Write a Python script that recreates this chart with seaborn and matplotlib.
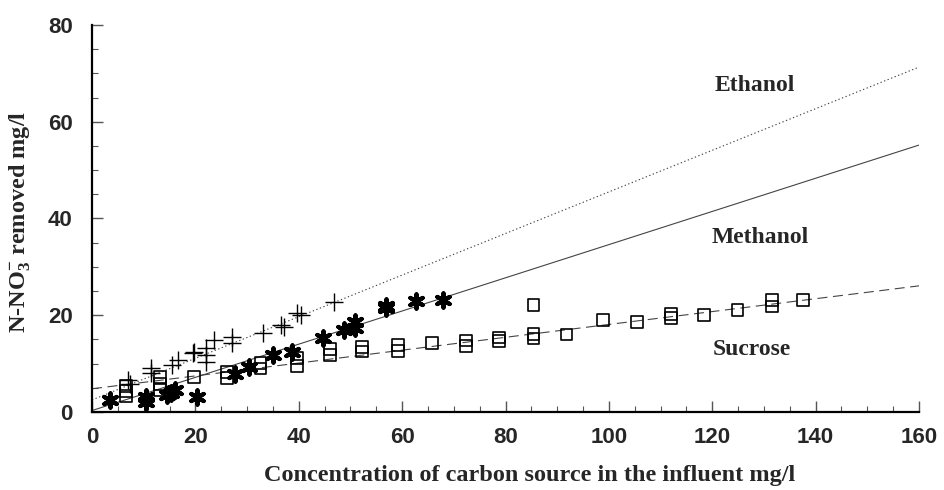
import numpy as np
import pandas as pd
import matplotlib
matplotlib.use("Agg")
import matplotlib.pyplot as plt
import seaborn as sns
from matplotlib.ticker import MultipleLocator

# ---------------- data ----------------
ethanol_x = [7.0, 7.3, 11.5, 11.5, 15.5, 16.7, 19.6, 19.8, 22.1, 22.1, 22.1,
             23.6, 27.1, 27.1, 33.1, 36.5, 37.1, 39.7, 40.4, 46.9]
ethanol_y = [6.6, 5.8, 9.0, 8.0, 9.7, 10.7, 12.1, 12.4, 13.2, 11.8, 10.4,
             14.9, 15.6, 14.2, 16.3, 18.0, 17.6, 20.4, 20.0, 22.8]

methanol_x = [3.4, 10.5, 10.5, 14.6, 15.2, 16.1, 20.3, 27.7, 30.3, 35.1, 38.7,
              44.7, 48.7, 50.8, 50.8, 56.8, 56.8, 62.6, 68.0]
methanol_y = [2.5, 3.2, 2.1, 3.5, 3.9, 4.6, 3.2, 7.8, 9.3, 11.8, 12.4,
              15.2, 17.0, 18.7, 17.3, 21.4, 22.0, 22.9, 23.1]

sucrose_x = [6.6, 6.6, 6.6, 13.1, 13.1, 13.1, 19.7, 26.1, 26.1, 32.6, 32.6,
             39.7, 39.7, 46.1, 46.1, 52.2, 52.2, 59.2, 59.2, 65.8, 72.3, 72.3,
             78.8, 78.8, 85.4, 85.4, 85.4, 91.8, 98.9, 105.4, 112.0, 112.0,
             118.4, 124.9, 131.5, 131.5, 137.6]
sucrose_y = [3.3, 4.3, 5.3, 4.5, 5.8, 7.2, 7.2, 7.0, 8.3, 9.0, 10.2,
             9.5, 11.2, 11.8, 13.0, 12.5, 13.4, 12.6, 13.8, 14.2, 13.6, 14.8,
             14.6, 15.4, 22.1, 15.2, 16.1, 16.0, 19.0, 18.6, 19.4, 20.2,
             20.1, 21.1, 21.8, 23.2, 23.2]

fit_names = ["Ethanol", "Methanol", "Sucrose"]
fit_intercepts = [2.5, 0.3, 4.8]
fit_slopes = [0.43, 0.343, 0.133]

label_texts = ["Ethanol", "Methanol", "Sucrose"]
label_x = [128.2, 129.3, 127.7]
label_y = [67.4, 36.0, 13.0]

x_ticks = [0, 20, 40, 60, 80, 100, 120, 140, 160]
y_ticks = [0, 20, 40, 60, 80]

# ---------------- style ----------------
sns.set_theme(style="ticks")
plt.rcParams["font.family"] = ["Liberation Serif", "DejaVu Serif"]
plt.rcParams["mathtext.fontset"] = "custom"
plt.rcParams["mathtext.rm"] = "Liberation Serif:bold"
plt.rcParams["mathtext.it"] = "Liberation Serif:italic:bold"
plt.rcParams["mathtext.bf"] = "Liberation Serif:bold"

fig = plt.figure(figsize=(9.44, 4.90), dpi=100)
ax = fig.add_axes([92 / 944, 78 / 490, (919 - 92) / 944, (412 - 25) / 490])

# fitted lines
line_x = np.array([0.0, 160.0])
styles = {"Ethanol": (1.2, 2.2), "Methanol": "", "Sucrose": (9, 5)}
for name, b, m in zip(fit_names, fit_intercepts, fit_slopes):
    df = pd.DataFrame({"x": line_x, "y": b + m * line_x})
    sns.lineplot(data=df, x="x", y="y", ax=ax, color="#444444",
                 linewidth=0.8, legend=False)
    line = ax.lines[-1]
    if styles[name] != "":
        line.set_dashes(styles[name])

# data points
sns.scatterplot(x=ethanol_x, y=ethanol_y, ax=ax, marker="+", s=170,
                color="black", linewidth=1.0, zorder=3)
sns.scatterplot(x=methanol_x, y=methanol_y, ax=ax, marker=(6, 2, 0), s=105,
                color="black", linewidth=3.0, zorder=3)
sns.scatterplot(x=sucrose_x, y=sucrose_y, ax=ax, marker="s", s=72,
                facecolor="none", edgecolor="black", linewidth=1.2, zorder=3)

for t, x, y in zip(label_texts, label_x, label_y):
    ax.text(x, y, t, ha="center", va="center", fontsize=17,
            fontweight="bold", family="Liberation Serif")

ax.set_xlim(0, 160)
ax.set_ylim(0, 80)
ax.set_xticks(x_ticks)
ax.set_yticks(y_ticks)
ax.xaxis.set_minor_locator(MultipleLocator(5))
ax.yaxis.set_minor_locator(MultipleLocator(5))
ax.tick_params(axis="both", which="major", direction="in", length=8,
               width=1.0, color="#555555")
ax.tick_params(axis="both", which="minor", direction="in", length=4,
               width=0.8, color="#555555")
ax.tick_params(axis="x", which="major", pad=11)
ax.tick_params(axis="y", which="major", pad=14)
for lab in ax.get_xticklabels() + ax.get_yticklabels():
    lab.set_fontfamily("Liberation Sans")
    lab.set_fontweight("bold")
    lab.set_fontsize(16)

sns.despine(ax=ax)
for sp in ["left", "bottom"]:
    ax.spines[sp].set_color("black")
    ax.spines[sp].set_linewidth(1.6)

ax.set_xlabel("Concentration of carbon source in the influent mg/l",
              fontsize=17.5, fontweight="bold", family="Liberation Serif")
ax.set_ylabel(r"N-NO$_3^{-}$ removed mg/l", fontsize=17.5, fontweight="bold",
              family="Liberation Serif")
# label anchors: x label top edge, y label right edge
ax.xaxis.set_label_coords((530 - 92) / 827, -(465 - 412) / 387)
ax.yaxis.set_label_coords(-(92 - 33) / 827, (412 - 222) / 387)
ax.grid(False)

fig.savefig("out.png", dpi=100)
